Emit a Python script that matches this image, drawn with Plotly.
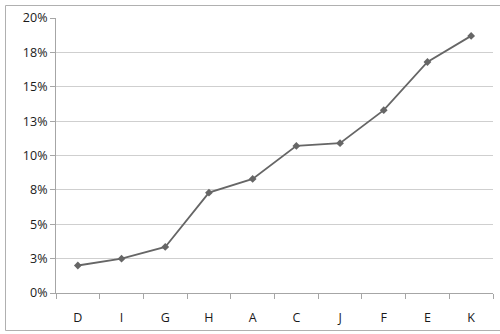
import plotly.graph_objects as go

categories = ["D", "I", "G", "H", "A", "C", "J", "F", "E", "K"]
values = [0.020, 0.025, 0.0335, 0.073, 0.083, 0.107, 0.109, 0.133, 0.168, 0.187]
tick_vals = [0, 0.025, 0.05, 0.075, 0.10, 0.125, 0.15, 0.175, 0.20]
tick_text = ["0%", "3%", "5%", "8%", "10%", "13%", "15%", "18%", "20%"]

W, H = 500, 334
ml, mr, mt, mb = 56, 7, 18, 41
pw, ph = W - ml - mr, H - mt - mb

def px_x(x):
    return (x - ml) / pw

def px_y(y):
    return (H - mb - y) / ph

fig = go.Figure()
fig.add_trace(go.Scatter(
    x=categories, y=values, mode="lines+markers",
    line=dict(color="#666666", width=1.8),
    marker=dict(symbol="diamond", size=6, color="#666666"),
    hoverinfo="skip",
))

font = dict(family="Open Sans", size=12.5, color="#1a1a1a")

fig.update_layout(
    width=W, height=H,
    margin=dict(l=ml, r=mr, t=mt, b=mb),
    paper_bgcolor="white", plot_bgcolor="white",
    showlegend=False,
    font=font,
    xaxis=dict(
        type="category", range=[-0.5, 9.5],
        showgrid=False, showline=True, linecolor="#a6a6a6", linewidth=1,
        ticks="outside", ticklen=5, tickcolor="#a6a6a6", tickson="boundaries",
        ticklabelstandoff=13, tickfont=font,
    ),
    yaxis=dict(
        range=[0, 0.2], tickvals=tick_vals, ticktext=tick_text,
        showgrid=True, gridcolor="#cfcfcf", gridwidth=1,
        showline=True, linecolor="#a6a6a6", linewidth=1,
        ticks="outside", ticklen=5, tickcolor="#a6a6a6",
        zeroline=False, tickfont=font,
    ),
    shapes=[dict(
        type="rect", xref="paper", yref="paper",
        x0=px_x(5.5), x1=px_x(505), y0=px_y(330.5), y1=px_y(5.5),
        line=dict(color="#b0b0b0", width=1), fillcolor="rgba(0,0,0,0)",
        layer="below",
    )],
)

fig.write_html("out.html")
